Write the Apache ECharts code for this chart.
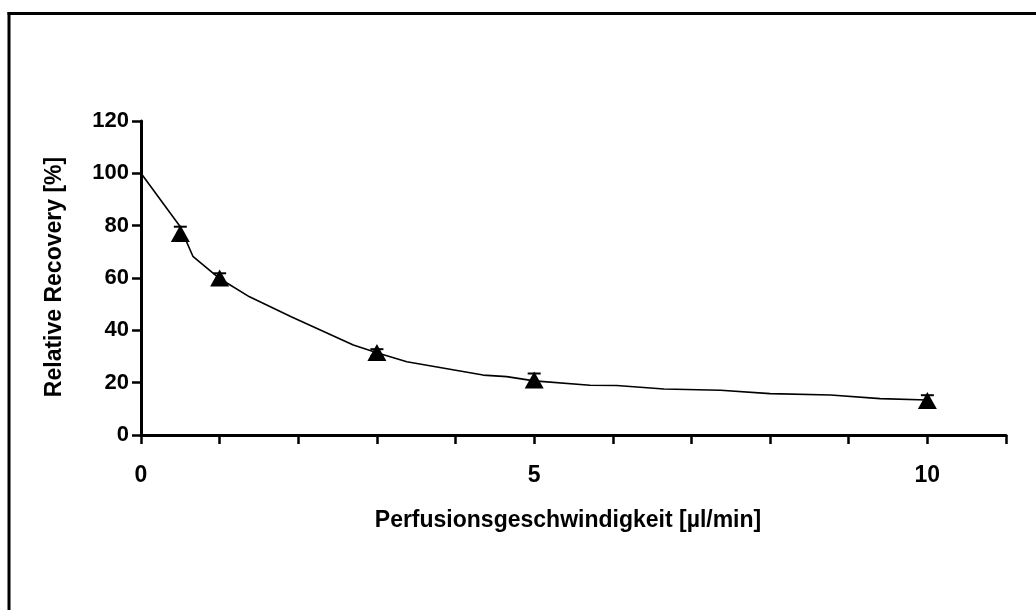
<!DOCTYPE html>
<html>
<head>
<meta charset="utf-8">
<script src="https://cdn.jsdelivr.net/npm/echarts@6/dist/echarts.min.js"></script>
<style>
html,body{margin:0;padding:0;background:#fff;}
#chart{width:1036px;height:610px;}
</style>
</head>
<body>
<div id="chart"></div>
<script>
// Measured points (flow rate, relative recovery, error)
var flowRates = [0.5, 1, 3, 5, 10];
var recovery = [77, 60, 31.5, 21, 13.2];
var errors = [2.6, 1.8, 1.3, 2.5, 2.0];

// Fitted curve as drawn in the figure
var fitX = [0, 0.49, 0.66, 1, 1.38, 1.91, 2.7, 3, 3.38, 4.35, 4.65, 5, 5.71, 6.05, 6.65, 7.37, 8.0, 8.77, 9.4, 10];
var fitY = [100, 80, 68.3, 59.8, 52.8, 45.2, 34.4, 31.4, 28.0, 22.9, 22.3, 20.7, 19.0, 18.9, 17.6, 17.1, 15.8, 15.3, 13.9, 13.4];

var xTickLabels = ['0', '5', '10'];
var xTitle = 'Perfusionsgeschwindigkeit [µl/min]';
var yTitle = 'Relative Recovery [%]';

var chart = echarts.init(document.getElementById('chart'), null, {renderer: 'canvas'});

var fitData = fitX.map(function (x, i) { return [x, fitY[i]]; });
var pointData = flowRates.map(function (x, i) { return [x, recovery[i]]; });
var errData = flowRates.map(function (x, i) { return [x, recovery[i], errors[i]]; });

var option = {
  backgroundColor: '#ffffff',
  animation: false,
  grid: {left: 141, right: 30, top: 121, bottom: 175, containLabel: false},
  xAxis: {
    type: 'value', min: 0, max: 11, interval: 1,
    axisLine: {show: true, lineStyle: {color: '#000', width: 3}},
    axisTick: {show: true, length: 9, lineStyle: {color: '#000', width: 2.5}},
    splitLine: {show: false},
    axisLabel: {
      margin: 29, color: '#000', fontFamily: 'Liberation Sans, Arial, sans-serif',
      fontWeight: 'bold', fontSize: 23,
      formatter: function (v) { return xTickLabels.indexOf(String(v)) >= 0 ? String(v) : ''; }
    }
  },
  yAxis: {
    type: 'value', min: 0, max: 120, interval: 20,
    axisLine: {show: true, lineStyle: {color: '#000', width: 3}},
    axisTick: {show: true, length: 9, lineStyle: {color: '#000', width: 2.5}},
    splitLine: {show: false},
    axisLabel: {
      margin: 12, color: '#000', fontFamily: 'Liberation Sans, Arial, sans-serif',
      fontWeight: 'bold', fontSize: 22
    }
  },
  series: [
    {
      type: 'line', data: fitData, symbol: 'none', smooth: false,
      lineStyle: {color: '#000', width: 1.6}, z: 2
    },
    {
      type: 'custom', data: errData, z: 3,
      renderItem: function (params, api) {
        var x = api.value(0), y = api.value(1), e = api.value(2);
        var top = api.coord([x, y + e]);
        var bot = api.coord([x, y - e]);
        var hw = 6.5;
        var style = {stroke: '#000', lineWidth: 2};
        return {
          type: 'group',
          children: [
            {type: 'line', shape: {x1: top[0], y1: top[1], x2: bot[0], y2: bot[1]}, style: style},
            {type: 'line', shape: {x1: top[0] - hw, y1: top[1], x2: top[0] + hw, y2: top[1]}, style: style},
            {type: 'line', shape: {x1: bot[0] - hw, y1: bot[1], x2: bot[0] + hw, y2: bot[1]}, style: style}
          ]
        };
      }
    },
    {
      type: 'scatter', data: pointData, symbol: 'triangle', symbolSize: [19, 17],
      itemStyle: {color: '#000', opacity: 1}, z: 4
    }
  ],
  graphic: [
    {type: 'rect', shape: {x: 7.5, y: 12, width: 3, height: 600}, style: {fill: '#000'}},
    {type: 'rect', shape: {x: 7.5, y: 12, width: 1030, height: 3}, style: {fill: '#000'}},
    {
      type: 'text', x: 568, y: 521,
      style: {
        text: xTitle, fill: '#000', font: 'bold 23px "Liberation Sans", Arial, sans-serif',
        textAlign: 'center', textVerticalAlign: 'middle'
      }
    },
    {
      type: 'text', x: 55, y: 277, rotation: Math.PI / 2,
      style: {
        text: yTitle, fill: '#000', font: 'bold 23px "Liberation Sans", Arial, sans-serif',
        textAlign: 'center', textVerticalAlign: 'middle'
      }
    }
  ]
};
chart.setOption(option);
</script>
</body>
</html>
